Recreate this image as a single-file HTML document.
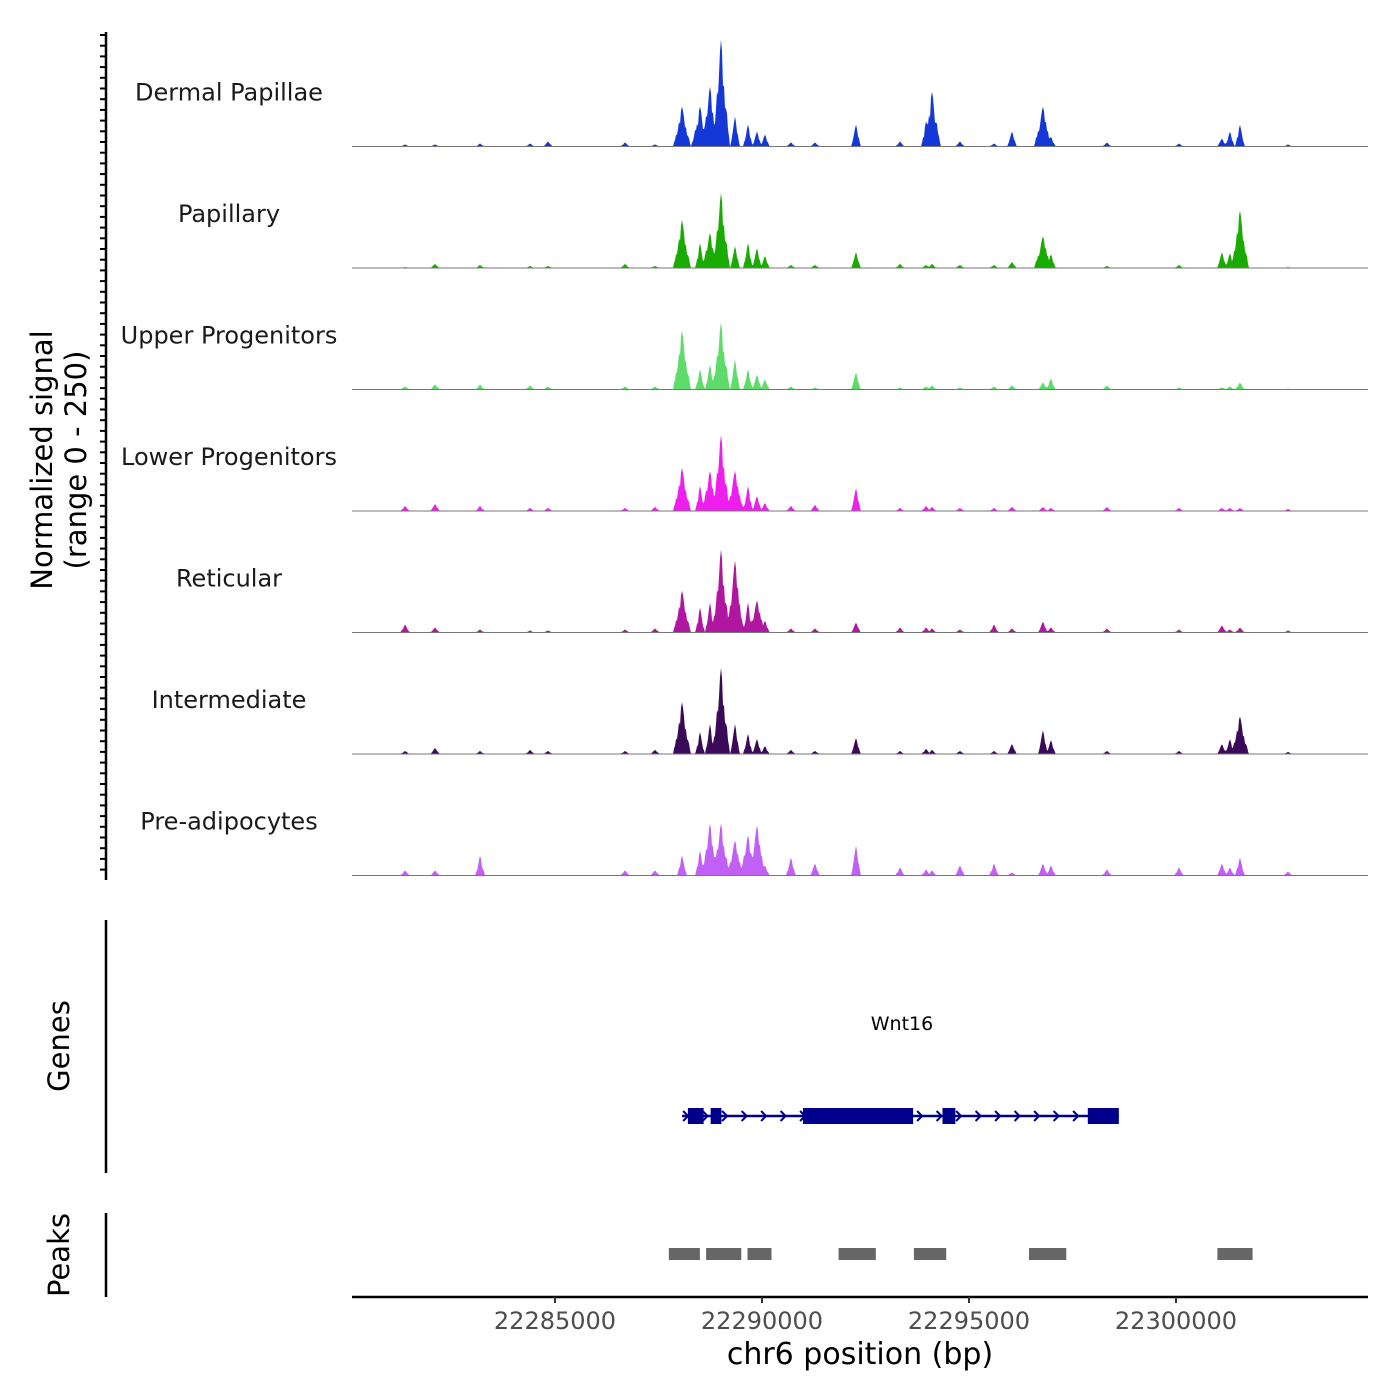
<!DOCTYPE html>
<html><head><meta charset="utf-8">
<style>
html,body{margin:0;padding:0;background:#fff;}
svg{display:block;font-family:"DejaVu Sans","Liberation Sans",sans-serif;}
</style></head>
<body>
<svg id="chart" width="1400" height="1400" viewBox="0 0 1400 1400" xmlns="http://www.w3.org/2000/svg">
<g id="tracks"></g>
<g id="leftaxis"></g>
<text transform="translate(52,460) rotate(-90)" text-anchor="middle" font-size="29" fill="#000">Normalized signal</text>
<text transform="translate(86,460) rotate(-90)" text-anchor="middle" font-size="29" fill="#000">(range 0 - 250)</text>
<line x1="106" y1="920" x2="106" y2="1173" stroke="#000" stroke-width="2.5"/>
<text transform="translate(69,1046) rotate(-90)" text-anchor="middle" font-size="29">Genes</text>
<line x1="106" y1="1213" x2="106" y2="1297" stroke="#000" stroke-width="2.5"/>
<text transform="translate(69,1255) rotate(-90)" text-anchor="middle" font-size="29">Peaks</text>
<g id="gene"></g>
<g id="peaks"></g>
<g id="xaxis"></g>
<text x="860" y="1364" text-anchor="middle" font-size="30">chr6 position (bp)</text>
</svg>
<script>
const NS="http://www.w3.org/2000/svg";
const trackNames=["Dermal Papillae","Papillary","Upper Progenitors","Lower Progenitors","Reticular","Intermediate","Pre-adipocytes"];
const trackColors=["#1438d8","#1aab00","#5ddc6a","#ee1fee","#b0169f","#3a0a58","#c25ff5"];
const peakPositions=[22281378,22282103,22283190,22284397,22284832,22286691,22287416,22288068,22288503,22288744,22289010,22289348,22289662,22289879,22290072,22290700,22291280,22292270,22293333,22293961,22294106,22294782,22295603,22296038,22296786,22296979,22298332,22300071,22301109,22301302,22301544,22302703];
const hDermal=[2,2,3,3,5,4,2,40,40,60,107,30,22,15,12,4,4,22,5,25,55,5,3,15,40,10,4,3,8,15,22,2];
const hPapillary=[1,4,3,2,2,4,2,48,25,35,75,22,25,20,12,3,3,16,4,3,4,3,3,6,32,14,2,3,16,15,58,1];
const hUpper=[3,5,5,4,3,3,3,59,20,25,67,30,20,15,10,3,2,17,2,3,4,2,3,4,7,11,4,2,2,3,7,1];
const hLower=[5,7,5,3,3,3,4,43,25,40,76,40,25,15,8,5,6,23,3,5,4,3,3,4,4,3,4,3,3,3,3,2];
const hReticular=[8,5,3,2,2,3,4,42,25,30,83,72,30,32,12,4,4,10,5,5,4,3,8,4,11,5,4,3,7,3,5,2];
const hIntermediate=[3,6,3,4,3,3,4,52,22,30,86,30,20,15,8,4,3,16,3,5,4,3,3,10,24,14,3,3,10,15,38,2];
const hPreadipo=[5,5,20,0,0,5,5,20,25,52,52,35,40,50,10,18,12,30,8,6,5,10,12,3,12,10,6,8,12,8,18,4];
const trackHeights=[hDermal,hPapillary,hUpper,hLower,hReticular,hIntermediate,hPreadipo];
const xTicks=[22285000,22290000,22295000,22300000];
const peakRegions=[[22287750,22288500],[22288650,22289500],[22289650,22290230],[22291850,22292750],[22293670,22294450],[22296450,22297350],[22301000,22301850]];
const exons=[[22288210,22288590],[22288760,22289020],[22290990,22293650],[22294360,22294670],[22297870,22298620]];
const geneStart=22288070, geneEnd=22298620;

const X0=352,X1=1368,BP0=22280097,BP1=22304638;
const xs=bp=>X0+(bp-BP0)/(BP1-BP0)*(X1-X0);
const trackTop=27, trackH=121.5;
function el(tag,attrs,parent){const e=document.createElementNS(NS,tag);for(const k in attrs)e.setAttribute(k,attrs[k]);parent.appendChild(e);return e;}

const tg=document.getElementById('tracks');
trackNames.forEach((name,i)=>{
  const base=trackTop+(i+1)*trackH-2;
  const hs=trackHeights[i];
  const g=el('g',{},tg);
  
  
  let pts=[];
  let xmin=398,xmax=1325;
  for(let x=xmin;x<=xmax;x+=1){
    let v=0;
    peakPositions.forEach((p,j)=>{
      const px=xs(p);const h=hs[j];const w=h>30?9:5;
      const d=Math.abs(x-px);
      if(d<w){const jag=(((x*7+j*13)%5)/5)*0.35+0.65;v=Math.max(v,h*(1-d/w)*(d<1.5?1:jag));}
    });
    pts.push(x+','+(base-v).toFixed(1));
  }
  const a=el('polygon',{points:xmin+','+base+' '+pts.join(' ')+' '+xmax+','+base,fill:trackColors[i]},g);
  
  
  const l=el('line',{x1:X0,y1:base,x2:X1,y2:base,stroke:'#777','stroke-width':1},g);
  
  
  const t=el('text',{x:229,y:base-46,'text-anchor':'middle','font-size':24,fill:'#1a1a1a'},g);
  t.textContent=name;
  
  
});

const la=document.getElementById('leftaxis');
el('line',{x1:106,y1:32,x2:106,y2:880,stroke:'#000','stroke-width':2.5},la);
for(let y=35;y<=879;y+=10.7){
  const tk=el('line',{x1:100,y1:y.toFixed(1),x2:106,y2:y.toFixed(1),stroke:'#000','stroke-width':2},la);
  
  
}

const gg=document.getElementById('gene');
const gl=el('line',{x1:xs(geneStart),y1:1116,x2:xs(geneEnd),y2:1116,stroke:'#00008b','stroke-width':2.5},gg);


for(let x=xs(geneStart)+4;x<xs(geneEnd);x+=19.5){
  const c=el('polyline',{points:(x-3)+',1111 '+(x+2)+',1116 '+(x-3)+',1121',fill:'none',stroke:'#00008b','stroke-width':2},gg);
  
  
}
exons.forEach(e=>{
  const r=el('rect',{x:xs(e[0]),y:1108,width:xs(e[1])-xs(e[0]),height:16,fill:'#00008b'},gg);
  
  
});
const gt=el('text',{x:902,y:1030,'text-anchor':'middle','font-size':19},gg);
gt.textContent='Wnt16';



const pg=document.getElementById('peaks');
peakRegions.forEach(p=>{
  const r=el('rect',{x:xs(p[0]),y:1248,width:xs(p[1])-xs(p[0]),height:12,fill:'#666'},pg);
  
  
});

const xa=document.getElementById('xaxis');
el('line',{x1:X0,y1:1297,x2:X1,y2:1297,stroke:'#000','stroke-width':2.5},xa);
xTicks.forEach(t=>{
  const x=xs(t);
  const tk=el('line',{x1:x,y1:1297,x2:x,y2:1303,stroke:'#333','stroke-width':2},xa);
  
  
  const tl=el('text',{x:x,y:1329,'text-anchor':'middle','font-size':24,fill:'#4d4d4d'},xa);
  tl.textContent=String(t);
  
  
});
</script>
</body></html>
